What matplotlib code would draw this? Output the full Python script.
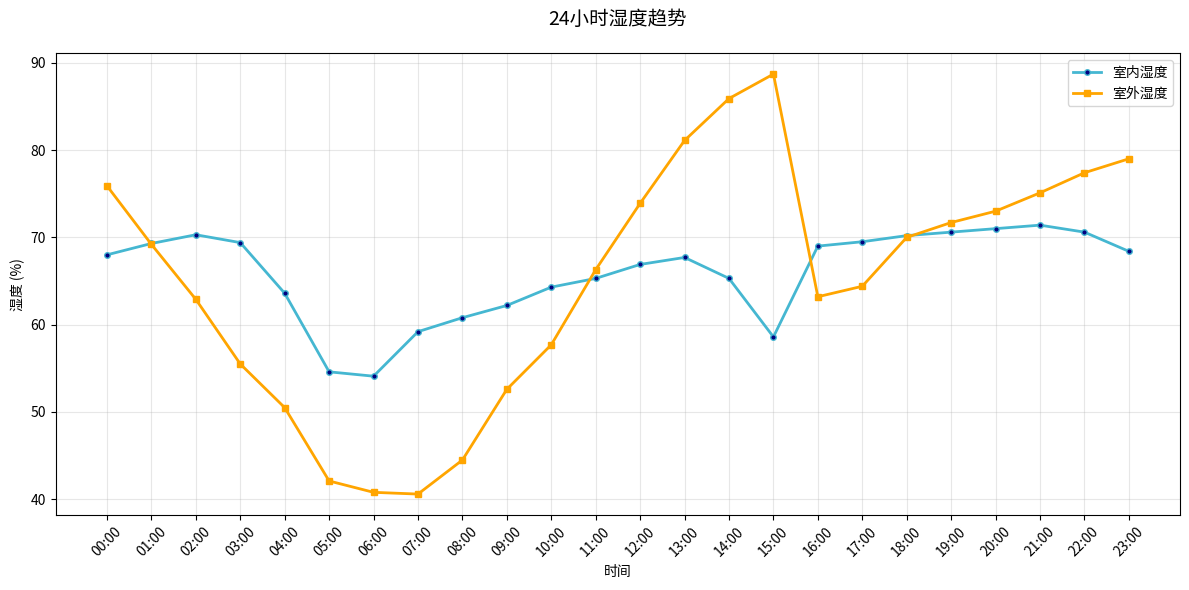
import numpy as np
import matplotlib
matplotlib.use("Agg")
import matplotlib.pyplot as plt

plt.rcParams['font.family'] = ['Noto Sans CJK SC', 'DejaVu Sans']
plt.rcParams['axes.unicode_minus'] = False

hours = ["%02d:00" % h for h in range(24)]
indoor = [68.0, 69.3, 70.3, 69.4, 63.6, 54.6, 54.1, 59.2, 60.8, 62.2, 64.3, 65.3,
          66.9, 67.7, 65.3, 58.6, 69.0, 69.5, 70.2, 70.6, 71.0, 71.4, 70.6, 68.4]
outdoor = [75.9, 69.2, 62.9, 55.5, 50.5, 42.1, 40.8, 40.6, 44.5, 52.6, 57.7, 66.3,
           73.9, 81.1, 85.9, 88.7, 63.2, 64.4, 70.0, 71.7, 73.0, 75.1, 77.4, 79.0]

fig, ax = plt.subplots(figsize=(11.89, 5.9), dpi=100)
x = np.arange(len(hours))
ax.plot(x, indoor, color='#45B7D1', linewidth=2, marker='o', markersize=4,
        markerfacecolor='navy', markeredgecolor='#45B7D1', label='室内湿度')
ax.plot(x, outdoor, color='orange', linewidth=2, marker='s', markersize=5,
        label='室外湿度')

ax.set_xticks(x)
ax.set_xticklabels(hours, rotation=45)
ax.set_xlabel('时间')
ax.set_ylabel('湿度 (%)')
ax.set_title('24小时湿度趋势', fontsize=14, pad=20)
ax.grid(True, alpha=0.3)
ax.legend(loc='upper right')

fig.subplots_adjust(left=0.047, right=0.9924, top=0.910, bottom=0.127)
plt.savefig('out.png')
